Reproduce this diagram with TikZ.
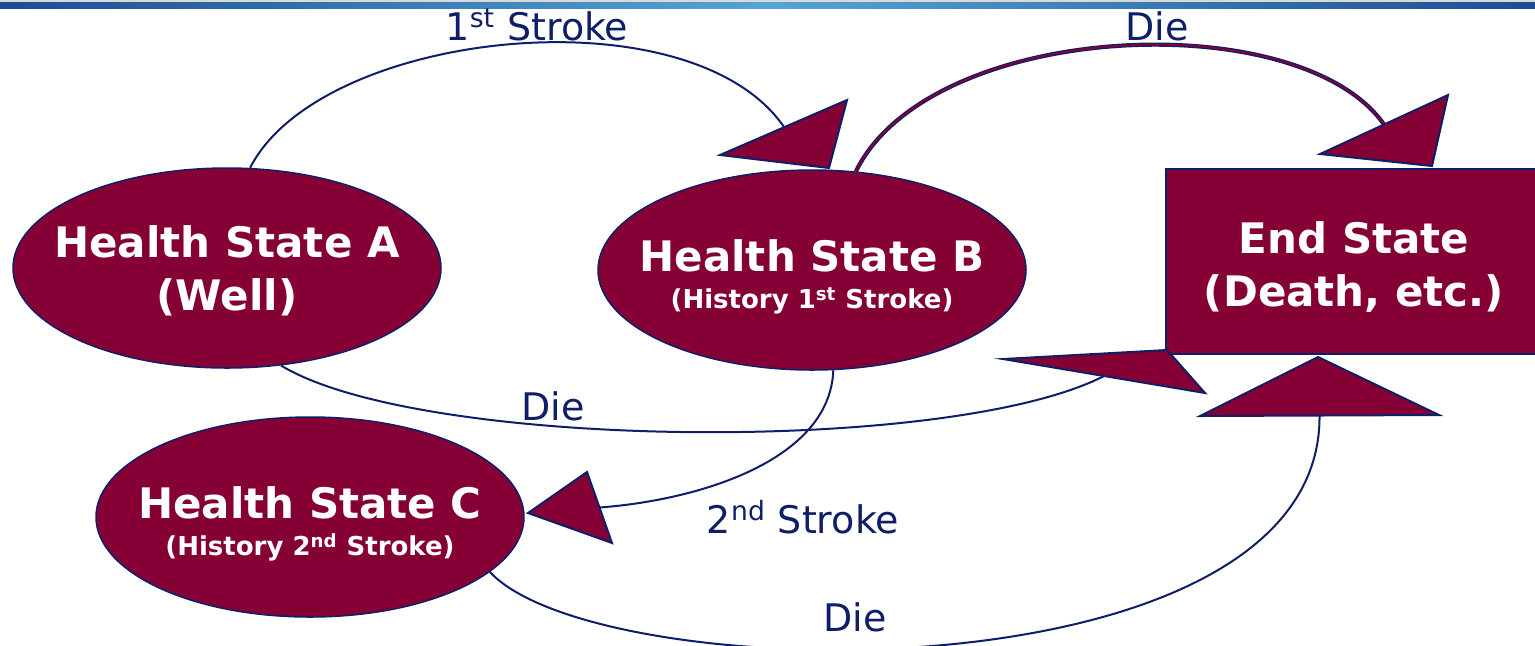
\documentclass[tikz,border=0pt]{standalone}
\usepackage{fontspec}
\setmainfont{DejaVu Sans}
\usetikzlibrary{shapes.geometric}

\definecolor{maroon}{RGB}{133,0,52}
\definecolor{navy}{RGB}{14,30,104}
\definecolor{banddark}{RGB}{28,78,145}
\definecolor{bandlight}{RGB}{84,164,214}

\newcommand{\subline}[1]{{\fontsize{13}{15}\selectfont #1}}
\newcommand{\topgap}[1]{\rule{0pt}{#1}}

\tikzset{
  state/.style={ellipse, fill=maroon, draw=navy, line width=0.75pt, text=white,
    font=\bfseries\fontsize{21}{26.5}\selectfont, align=center,
    inner xsep=-25pt, inner ysep=0pt,
    minimum width=214pt, minimum height=100pt},
  endbox/.style={rectangle, fill=maroon, draw=navy, line width=1pt, text=white,
    font=\bfseries\fontsize{21}{26.5}\selectfont, align=center, inner sep=0pt,
    minimum width=188pt, minimum height=92.5pt},
  lbl/.style={text=navy, font=\fontsize{19}{22}\selectfont, anchor=base, inner sep=0pt},
  trans/.style={draw=navy, line width=1pt},
  head/.style={fill=maroon, draw=navy, line width=1pt, line join=miter},
}

\begin{document}
\begin{tikzpicture}[x=0.5pt, y=-0.5pt]
  \useasboundingbox (0,0) rectangle (1535,645);

  % Top band:
  \fill[black!15] (0,0) rectangle (1535,2);
  \shade[left color=banddark, right color=banddark, middle color=bandlight] (0,2) rectangle (1535,8);

  % States:
  \node[state] (A) at (227,268) {\topgap{19pt}Health State A\\(Well)};
  \node[state] (B) at (812,270) {\topgap{23pt}Health State B\\[-8pt]\subline{(History 1\textsuperscript{st} Stroke)}};
  \node[state] (C) at (310,517) {\topgap{23pt}Health State C\\[-8pt]\subline{(History 2\textsuperscript{nd} Stroke)}};
  \node[endbox] (E) at (1354,261.5) {\topgap{21pt}End State\\(Death, etc.)};

  % Ends of the transitions (base of each head):
  \coordinate (inAB) at (784,127);
  \coordinate (inBE) at (1384,124.5);
  \coordinate (inAE) at (1104,376);
  \coordinate (inBC) at (599.5,507.5);
  \coordinate (inCE) at (1319.5,415.5);

  % Transitions:
  \draw[trans] (A.77) .. controls (320,30) and (690,-10) .. (inAB);
  \draw[draw=navy, line width=0.6pt, double=maroon, double distance=0.9pt]
    (B.66) .. controls (930,20) and (1300,4) .. (inBE);
  \draw[trans] (A.-61) .. controls (420,450) and (950,455) .. (inAE);
  \draw[trans] (B.-78) .. controls (830,460) and (700,500) .. (inBC);
  \draw[trans] (C.-17) .. controls (600,690) and (1322,700) .. (inCE);

  % Heads:
  \draw[head] (720,155) -- (847,100) -- (829,168) -- cycle;
  \draw[head] (1320,154) -- (1448,95) -- (1432,166) -- cycle;
  \draw[head] (1003,359) -- (1167,350) -- (1205,393) -- cycle;
  \draw[head] (1200,416) -- (1318,357) -- (1439,415) -- cycle;
  \draw[head] (587,472) -- (528,513) -- (612,543) -- cycle;

  % Labels:
  \node[lbl] (lAB) at (537,40) {1\textsuperscript{st} Stroke};
  \node[lbl] (lBE) at (1157,40) {Die};
  \node[lbl] (lAE) at (553,420) {Die};
  \node[lbl] (lBC) at (803,533) {2\textsuperscript{nd} Stroke};
  \node[lbl] (lCE) at (855,631) {Die};
\end{tikzpicture}
\end{document}
